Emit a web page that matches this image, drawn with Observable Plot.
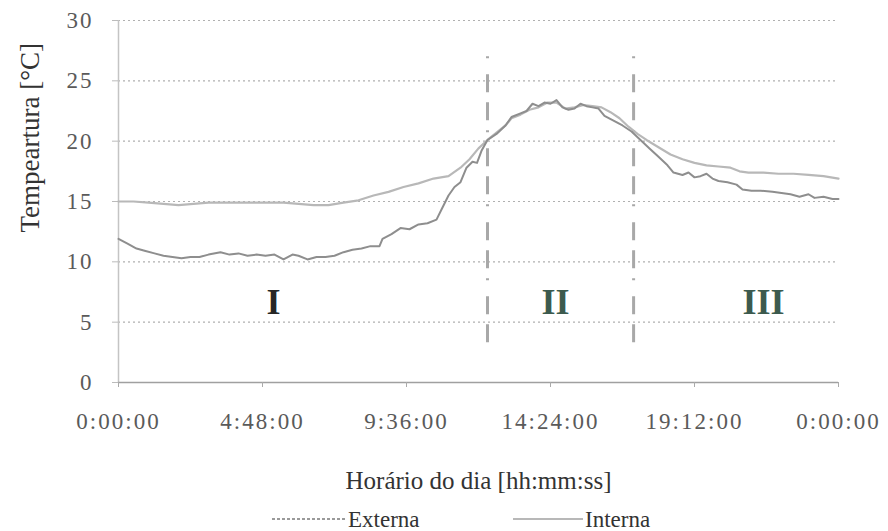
<!DOCTYPE html>
<html>
<head>
<meta charset="utf-8">
<script src="https://cdn.jsdelivr.net/npm/d3@7"></script>
<script src="https://cdn.jsdelivr.net/npm/@observablehq/plot@0.6"></script>
<style>
  html, body { margin: 0; padding: 0; background: #fff; }
  #chart { width: 888px; }
  svg { display: block; }
  #chart svg, #chart svg text { font-family: "Liberation Serif", "Times New Roman", serif !important; }
</style>
</head>
<body>
<div id="chart"></div>
<script>
// ---- data ----
const extHours = [0,0.3,0.6,0.9,1.2,1.5,1.8,2.1,2.4,2.7,
  3.0,3.4,3.7,4.0,4.3,4.6,4.9,5.2,5.5,5.8,
  6.0,6.3,6.6,6.9,7.2,7.5,7.8,8.1,8.4,8.7,
  8.8,9.1,9.4,9.7,10.0,10.3,10.6,10.8,11.0,11.2,
  11.4,11.6,11.8,11.95,12.1,12.3,12.6,12.9,13.1,13.4,
  13.6,13.8,14.0,14.2,14.4,14.6,14.8,15.0,15.2,15.4,
  15.6,15.8,16.0,16.2,16.5,16.8,17.1,17.4,17.7,18.0,
  18.3,18.5,18.8,19.0,19.2,19.4,19.6,19.8,20.0,20.3,
  20.6,20.8,21.1,21.4,21.8,22.1,22.4,22.7,23.0,23.2,
  23.5,23.8,24];
const extTemp = [11.9,11.5,11.1,10.9,10.7,10.5,10.4,10.3,10.4,10.4,
  10.6,10.8,10.6,10.7,10.5,10.6,10.5,10.6,10.2,10.6,
  10.5,10.2,10.4,10.4,10.5,10.8,11.0,11.1,11.3,11.3,
  11.9,12.3,12.8,12.7,13.1,13.2,13.5,14.5,15.5,16.2,
  16.6,17.8,18.3,18.2,19.2,20.1,20.6,21.3,22.0,22.3,
  22.5,23.1,22.9,23.2,23.1,23.4,22.8,22.6,22.7,23.1,
  22.9,22.8,22.7,22.1,21.7,21.3,20.8,20.1,19.4,18.7,
  18.0,17.4,17.2,17.4,17.0,17.1,17.3,16.9,16.7,16.6,
  16.4,16.0,15.9,15.9,15.8,15.7,15.6,15.4,15.6,15.3,
  15.4,15.2,15.2];

const intHours = [0,0.5,1.0,1.5,2.0,2.5,3.0,3.5,4.0,4.5,5.0,5.5,6.0,6.5,7.0,7.5,
  8.0,8.5,9.0,9.5,10.0,10.5,11.0,
  11.4,11.7,12.0,12.3,12.6,12.9,13.1,13.4,13.7,14.0,
  14.3,14.6,14.9,15.2,15.5,15.8,16.1,16.4,16.7,17.0,
  17.3,17.6,18.0,18.4,18.8,19.2,19.6,20.0,20.4,20.7,
  21.0,21.5,22.0,22.5,23.0,23.5,24];
const intTemp = [15.0,15.0,14.9,14.8,14.7,14.8,14.9,14.9,14.9,14.9,14.9,14.9,14.8,14.7,14.7,14.9,
  15.1,15.5,15.8,16.2,16.5,16.9,17.1,
  17.8,18.5,19.4,20.1,20.7,21.3,21.9,22.2,22.6,22.8,
  23.2,23.2,22.7,22.8,23.0,22.9,22.8,22.4,21.9,21.2,
  20.6,20.1,19.5,18.9,18.5,18.2,18.0,17.9,17.8,17.5,
  17.4,17.4,17.3,17.3,17.2,17.1,16.9];

const seriesNames = ["Externa", "Interna"];
const xTicks = [0, 4.8, 9.6, 14.4, 19.2, 24];
const xTickLabels = ["0:00:00", "4:48:00", "9:36:00", "14:24:00", "19:12:00", "0:00:00"];
const yTicks = [0, 5, 10, 15, 20, 25, 30];
const phaseBounds = [12.3, 17.17];
const phaseLabels = ["I", "II", "III"];
const phaseHours = [5.17, 14.57, 21.5];
const phaseTemp = 6.6;
const xTitle = "Horário do dia [hh:mm:ss]";
const yTitle = "Tempeartura [°C]";

// ---- tables ----
const ext = extHours.map((h, i) => ({h, t: extTemp[i]}));
const int = intHours.map((h, i) => ({h, t: intTemp[i]}));
const phases = phaseLabels.map((l, i) => ({l, h: phaseHours[i], t: phaseTemp}));

const font = "'Liberation Serif', 'Times New Roman', serif";

const plot = Plot.plot({
  width: 888,
  height: 500,
  marginLeft: 118,
  marginRight: 50,
  marginTop: 20,
  marginBottom: 118,
  style: {background: "#fff", overflow: "visible"},
  x: {domain: [0, 24]},
  y: {domain: [0, 30]},
  marks: [
    Plot.gridY(yTicks.filter(d => d > 0), {stroke: "#b0b0b0", strokeOpacity: 1, strokeDasharray: "2,3", strokeWidth: 1.2}),
    Plot.ruleX([0], {stroke: "#c4c4c4", strokeWidth: 1.5}),
    Plot.ruleY([0], {stroke: "#a0a0a0", strokeWidth: 1.5}),
    Plot.axisY({ticks: yTicks, tickSize: 6, tickPadding: 19, fontSize: 23, fill: "#5a5a5a", stroke: "#bbb", label: null}),
    Plot.axisX({ticks: xTicks, tickFormat: (d, i) => xTickLabels[i], tickSize: 5, tickPadding: 25, fontSize: 23, fill: "#5a5a5a", stroke: "#aaa", label: null}),
    Plot.ruleX(phaseBounds, {y1: 27, y2: 2.8, stroke: "#a8a8a8", strokeWidth: 3, strokeDasharray: "2,16,18,10,18,10"}),
    Plot.line(int, {x: "h", y: "t", stroke: "#b8b8b8", strokeWidth: 2.2}),
    Plot.line(ext, {x: "h", y: "t", stroke: "#8e8e8e", strokeWidth: 2}),
    Plot.text(phases, {x: "h", y: "t", text: "l", fontSize: 36, fontWeight: "bold", fill: (d) => d.l === "I" ? "#262626" : "#3c5a4e"}),
    Plot.text([xTitle], {frameAnchor: "bottom", dy: 106, text: d => d, fontSize: 25, fill: "#333"}),
    Plot.text([yTitle], {frameAnchor: "left", dx: -88, dy: 31, rotate: -90, text: d => d, fontSize: 27, fill: "#333"})
  ]
});

d3.select(plot).selectAll('g[aria-label="x-axis tick label"] text').style("letter-spacing", "2px");
d3.select(plot).selectAll('g[aria-label="y-axis tick label"] text').style("letter-spacing", "2px");
document.getElementById("chart").appendChild(plot);

// legend below the svg
const leg = d3.create("svg").attr("width", 888).attr("height", 31);
leg.append("line").attr("x1", 272).attr("x2", 345).attr("y1", 19).attr("y2", 19)
  .attr("stroke", "#9a9a9a").attr("stroke-width", 2).attr("stroke-dasharray", "3,2");
leg.append("text").attr("x", 348).attr("y", 27).text(seriesNames[0])
  .attr("font-size", 23).attr("fill", "#333");
leg.append("line").attr("x1", 513).attr("x2", 583).attr("y1", 19).attr("y2", 19)
  .attr("stroke", "#b8b8b8").attr("stroke-width", 2);
leg.append("text").attr("x", 585).attr("y", 27).text(seriesNames[1])
  .attr("font-size", 23).attr("fill", "#333");
document.getElementById("chart").appendChild(leg.node());
</script>
</body>
</html>
